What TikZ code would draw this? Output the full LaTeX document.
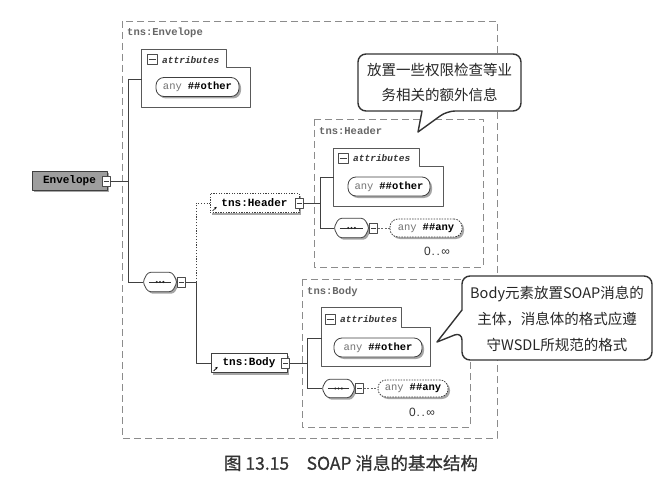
\documentclass[tikz,border=0pt]{standalone}
\usepackage{fontspec}
\setmainfont{Liberation Sans}
\newfontfamily\cjk{Noto Sans CJK SC}
\newfontfamily\cjkcap{Noto Sans CJK SC}[FakeBold=0.7]
\newfontfamily\mono{Liberation Mono}
\usetikzlibrary{shapes.misc,shadows,calc,arrows.meta}
\newcommand\seqdraw[1]{%
  \fill[black!35,rounded corners=3pt] ($(#1.north west)+(7,2)$) -- ($(#1.north east)+(-3,2)$) -- ($(#1.east)+(2,2)$)
    -- ($(#1.south east)+(-3,2)$) -- ($(#1.south west)+(7,2)$) -- ($(#1.west)+(2,2)$) -- cycle;
  \draw[draw=black!75,line width=0.8pt,fill=white,rounded corners=3pt] ($(#1.north west)+(5,0)$) -- ($(#1.north east)+(-5,0)$) -- (#1.east)
    -- ($(#1.south east)+(-5,0)$) -- ($(#1.south west)+(5,0)$) -- (#1.west) -- cycle;
  \draw[black!80,line width=0.7pt] ($(#1.west)+(6,0)$) -- ($(#1.east)+(-6,0)$);
  \foreach \dx in {-3.3,0,3.3} \fill[black!85] ($(#1.center)+(\dx,0)$) circle (1.2pt);
}
\begin{document}
\begin{tikzpicture}[x=1pt,y=-1pt,line join=round,
  cont/.style={draw=black!45, dash pattern=on 7pt off 4pt, line width=0.8pt},
  contlbl/.style={anchor=west, inner sep=0pt, font=\mono\bfseries\fontsize{10.5}{12}\selectfont, text=black!60},
  shad/.style={drop shadow={shadow xshift=2pt, shadow yshift=-2pt, fill=black!35, opacity=1}},
  elem/.style={draw=black!75, line width=0.8pt, fill=white, minimum height=19pt, inner sep=0pt,
    font=\mono\bfseries\fontsize{11}{12}\selectfont, shad},
  mbox/.style={draw=black!70, fill=white, line width=0.6pt, minimum width=8pt, minimum height=10pt, inner sep=0pt,
    path picture={\draw[black!75,line width=0.6pt] ([xshift=1.5pt]path picture bounding box.west) -- ([xshift=-1.5pt]path picture bounding box.east);}},
  amin/.style={mbox, minimum width=10pt, minimum height=10pt},
  attrline/.style={draw=black!65, line width=0.8pt},
  attrlbl/.style={anchor=west, inner sep=0pt, font=\mono\bfseries\itshape\fontsize{9.5}{11}\selectfont, text=black!80},
  pill/.style={rounded corners=8pt, draw=black!75, line width=0.8pt, fill=white, inner sep=0pt, minimum height=19pt,
    font=\mono\fontsize{10.5}{12}\selectfont, shad},
  anypill/.style={pill, dash pattern=on 1.5pt off 1.2pt},
  seq/.style={inner sep=0pt, minimum width=34pt, minimum height=19pt},
  conn/.style={draw=black!75, line width=0.8pt},
  dotconn/.style={conn, dash pattern=on 1.2pt off 1.6pt},
  dashconn/.style={draw=black!60, line width=0.7pt, dash pattern=on 2pt off 1.5pt},
  refarrow/.style={draw=black, line width=0.7pt, -{Stealth[length=2.5pt,width=2.5pt]}},
  callout/.style={draw=black!80, line width=1.4pt, fill=white},
  cjktext/.style={align=center, inner sep=0pt, text=black!85},
  mult/.style={inner sep=0pt, font=\fontsize{12}{13}\selectfont, text=black!80}
]
\useasboundingbox (0,0) rectangle (666,481);

% ---------- Envelope container ----------
\draw[cont] (122,21) rectangle (497,438);
\node[contlbl] (envlbl) at (127,33) {tns:Envelope};

% Envelope element
\node[elem, fill=black!38, minimum width=75pt] (env) at (69.5,181) {Envelope\hspace{6pt}};
\node[mbox] (envm) at (106,181) {};

% Envelope attributes
\node[inner sep=0pt, minimum width=108pt, minimum height=39pt] (envattr) at (196,87.5) {};
\draw[attrline] (envattr.north west) -- ++(0,-18) -- ++(85,0) -- ++(0,18) -- (envattr.north east)
  -- (envattr.south east) -- (envattr.south west) -- cycle;
\node[amin] (envamin) at (152,59.5) {};
\node[attrlbl] (envalbl) at (162,60) {attributes};
\node[pill, minimum width=83pt] (envpill) at (197.5,87) {{\color{black!55}any}\hspace{6pt}\textbf{\#\#other}};

% Envelope sequence
\node[seq] (envseq) at (160,282) {};
\seqdraw{envseq}
\node[mbox] (envseqm) at (181.5,282) {};

% trunk
\coordinate (et1) at (128,79);
\coordinate (et2) at (128,282);
\draw[conn] (envm.east) -- (envm.east -| et1);
\draw[conn] (et1) -- (et2);
\draw[conn] (et1) -- (et1 -| envattr.west);
\draw[conn] (et2) -- (envseq.west);

% ---------- Header / Body elements ----------
\node[elem, minimum width=89pt, dash pattern=on 1.3pt off 1.3pt] (hdr) at (254.5,203) {tns:Header};
\node[mbox] (hdrm) at (299,203) {};
\draw[refarrow] ([xshift=3pt,yshift=2pt]hdr.south west) -- ++(4,-4);

\node[elem, minimum width=76pt] (body) at (249,363) {tns:Body\hspace{6pt}};
\node[mbox] (bodym) at (285.5,363) {};
\draw[refarrow] ([xshift=3pt,yshift=2pt]body.south west) -- ++(4,-4);

\coordinate (j1) at (196,282);
\draw[conn] (envseqm.east) -- (j1) -- (j1 |- body.west) -- (body.west);
\draw[dotconn] (j1) -- (j1 |- hdr.west) -- (hdr.west);

% ---------- Header container ----------
\draw[cont] (314,119) rectangle (483,267);
\node[contlbl] (hlbl) at (319,131) {tns:Header};
\node[inner sep=0pt, minimum width=109pt, minimum height=39pt] (hattr) at (388.5,186.5) {};
\draw[attrline] (hattr.north west) -- ++(0,-18) -- ++(86,0) -- ++(0,18) -- (hattr.north east)
  -- (hattr.south east) -- (hattr.south west) -- cycle;
\node[amin] (hamin) at (343,158) {};
\node[attrlbl] (halbl) at (353,158.5) {attributes};
\node[pill, minimum width=82pt] (hpill) at (389,186.5) {{\color{black!55}any}\hspace{6pt}\textbf{\#\#other}};
\node[seq, minimum width=35pt] (hseq) at (351.5,228) {};
\seqdraw{hseq}
\node[mbox] (hseqm) at (373.5,228) {};
\node[anypill, minimum width=72pt, minimum height=18pt] (hany) at (426,228) {{\color{black!55}any}\hspace{6pt}\textbf{\#\#any}};
\node[mult] (hmult) at (437,251) {0\kern1pt.\kern1.5pt.\kern1.5pt∞};
\coordinate (ht1) at (320,177);
\coordinate (ht2) at (320,228);
\draw[conn] (hdrm.east) -- (hdrm.east -| ht1);
\draw[conn] (ht1) -- (ht2);
\draw[conn] (ht1) -- (ht1 -| hattr.west);
\draw[conn] (ht2) -- (hseq.west);
\draw[dashconn] (hseqm.east) -- (hany.west);

% ---------- Body container ----------
\draw[cont] (302,279) rectangle (470,427);
\node[contlbl] (blbl) at (307,292) {tns:Body};
\node[inner sep=0pt, minimum width=108pt, minimum height=38pt] (battr) at (376,347) {};
\draw[attrline] (battr.north west) -- ++(0,-20) -- ++(80,0) -- ++(0,20) -- (battr.north east)
  -- (battr.south east) -- (battr.south west) -- cycle;
\node[amin] (bamin) at (330,319) {};
\node[attrlbl] (balbl) at (340,319) {attributes};
\node[pill, minimum width=88pt] (bpill) at (378,347.5) {{\color{black!55}any}\hspace{6pt}\textbf{\#\#other}};
\node[seq, minimum width=33pt, minimum height=18pt] (bseq) at (338.5,388.5) {};
\seqdraw{bseq}
\node[mbox] (bseqm) at (359.5,388.5) {};
\node[anypill, minimum width=70pt, minimum height=17pt] (bany) at (413,388.5) {{\color{black!55}any}\hspace{6pt}\textbf{\#\#any}};
\node[mult] (bmult) at (422,412) {0\kern1pt.\kern1.5pt.\kern1.5pt∞};
\coordinate (bt1) at (307,338);
\coordinate (bt2) at (307,388.5);
\draw[conn] (bodym.east) -- (bodym.east -| bt1);
\draw[conn] (bt1) -- (bt2);
\draw[conn] (bt1) -- (bt1 -| battr.west);
\draw[conn] (bt2) -- (bseq.west);
\draw[dashconn] (bseqm.east) -- (bany.west);

% ---------- Callouts ----------
\draw[callout] (358,82) [rounded corners=8pt] -- (358,54) -- (521,54) -- (521,111) -- (447,111)
  [sharp corners] -- (418,132) -- (422,111) [rounded corners=8pt] -- (358,111) -- cycle;
\node[cjktext, font=\cjk\fontsize{14.5}{25}\selectfont] (c1) at (439.5,82.5) {放置一些权限检查等业\\务相关的额外信息};

\draw[callout] (557,276) [rounded corners=8pt] -- (652,276) -- (652,360) -- (462,360) -- (462,332)
  [sharp corners] -- (437,342) -- (462,310) [rounded corners=8pt] -- (462,276) -- cycle;
\node[cjktext, font=\cjk\fontsize{14.5}{26}\selectfont] (c2) at (557,319) {Body元素放置SOAP消息的\\主体，消息体的格式应遵\\守WSDL所规范的格式};

% ---------- Caption ----------
\node[inner sep=0pt, text=black!80, font=\cjkcap\fontsize{17.5}{20}\selectfont] (cap) at (351,463) {图 13.15\hspace{1em}SOAP 消息的基本结构};
\end{tikzpicture}
\end{document}
